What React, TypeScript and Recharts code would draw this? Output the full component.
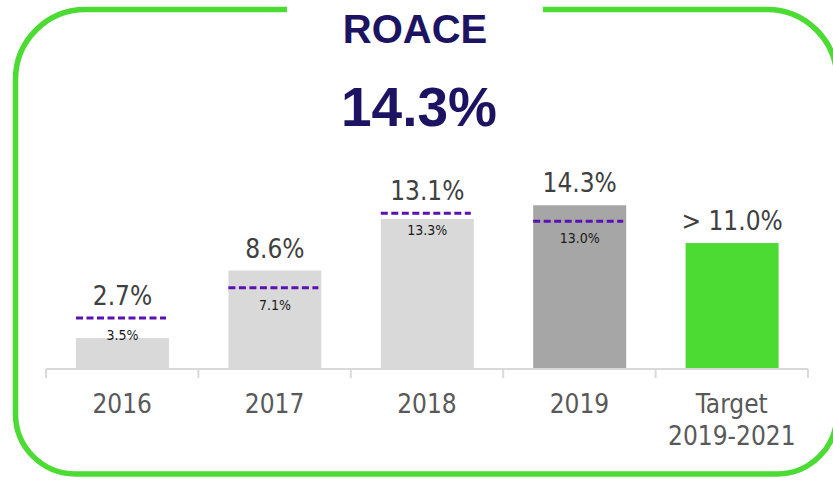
import React from 'react';
import { BarChart, Bar, XAxis, YAxis } from 'recharts';

// ---- data ----
const categories = ['2016', '2017', '2018', '2019', 'Target\n2019-2021'];
const roaceValues = [2.7, 8.6, 13.1, 14.3, 11.0];
const roaceLabels = ['2.7%', '8.6%', '13.1%', '14.3%', '> 11.0%'];
// purple dashed reference inside the bars (level as drawn, label as printed)
const benchLevels = [4.45, 7.1, 13.6, 12.9, null];
const benchLabels = ['3.5%', '7.1%', '13.3%', '13.0%', ''];
const barColors = ['#d9d9d9', '#d9d9d9', '#d9d9d9', '#a6a6a6', '#4cdb33'];

const chartData = categories.map((cat, i) => ({
  cat,
  value: roaceValues[i],
  label: roaceLabels[i],
  bench: benchLevels[i],
  benchLabel: benchLabels[i],
}));

const W = 833;
const H = 481;
const GREEN = '#4cdb33';
const NAVY = '#1c1363';
const FONT = '"DejaVu Sans Condensed", "DejaVu Sans", sans-serif';

const BarShape = (props: any) => {
  const { x, y, width, height, index, payload } = props;
  const top = y;
  const bottom = y + height;
  let dashY: number | null = null;
  if (payload.bench != null && payload.value) {
    dashY = bottom - (payload.bench / payload.value) * height;
  }
  const labelBase = Math.min(top, dashY ?? top) - 13;
  return (
    <g>
      <rect x={x} y={top} width={width} height={height} fill={barColors[index]} />
      {dashY != null && (
        <>
          <line
            x1={x}
            x2={x + width - 3}
            y1={dashY}
            y2={dashY}
            stroke="#5b10b2"
            strokeWidth={3}
            strokeDasharray="7 3.5"
          />
          <text
            x={x + width / 2}
            y={dashY + 22}
            textAnchor="middle"
            fontSize={14}
            fontFamily={FONT}
            fill="#1a1a1a"
          >
            {payload.benchLabel}
          </text>
        </>
      )}
      <text
        x={x + width / 2}
        y={labelBase}
        textAnchor="middle"
        fontSize={26}
        fontFamily={FONT}
        fill="#404040"
      >
        {payload.label}
      </text>
    </g>
  );
};

const AxisTick = (props: any) => {
  const { x, y, payload, index } = props;
  const half = payload.offset || 76.2;
  const lines = String(payload.value).split('\n');
  return (
    <g>
      <line x1={x - half} x2={x - half} y1={y} y2={y + 9} stroke="#d9d9d9" strokeWidth={2} />
      {index === categories.length - 1 && (
        <line x1={x + half} x2={x + half} y1={y} y2={y + 9} stroke="#d9d9d9" strokeWidth={2} />
      )}
      {lines.map((ln, i) => (
        <text
          key={i}
          x={x}
          y={y + 44 + i * 32}
          textAnchor="middle"
          fontSize={26}
          fontFamily={FONT}
          fill="#595959"
        >
          {ln}
        </text>
      ))}
    </g>
  );
};

export default function App() {
  return (
    <div
      style={{
        position: 'fixed',
        left: 0,
        top: 0,
        width: W,
        height: H,
        background: '#fff',
        overflow: 'hidden',
      }}
    >
      {/* green frame with a gap for the title */}
      <svg width={W} height={H} style={{ position: 'absolute', left: 0, top: 0 }}>
        <path
          d="M 287 9.5 H 85.5 A 70 70 0 0 0 15.5 79.5 V 414 A 60 60 0 0 0 75.5 474 H 777 A 60 60 0 0 0 837 414 V 79.5 A 70 70 0 0 0 767 9.5 H 543"
          fill="none"
          stroke={GREEN}
          strokeWidth={5.5}
        />
      </svg>

      <div
        style={{
          position: 'absolute',
          left: 0,
          top: 0,
          width: 830,
          textAlign: 'center',
          fontFamily: '"Liberation Sans", Arial, sans-serif',
          fontWeight: 'bold',
          fontSize: 40,
          lineHeight: '58px',
          color: NAVY,
        }}
      >
        ROACE
      </div>
      <div
        style={{
          position: 'absolute',
          left: 0,
          top: 70,
          width: 838,
          textAlign: 'center',
          fontFamily: '"Liberation Sans", Arial, sans-serif',
          fontWeight: 'bold',
          fontSize: 55,
          lineHeight: '74px',
          color: NAVY,
        }}
      >
        14.3%
      </div>

      <div style={{ position: 'absolute', left: 0, top: 0 }}>
        <BarChart
          width={W}
          height={H}
          data={chartData}
          margin={{ top: 140, right: 25, bottom: 30, left: 46 }}
          barSize={93}
        >
          <YAxis hide domain={[0, 20]} />
          <XAxis
            dataKey="cat"
            height={82}
            interval={0}
            tickSize={0}
            tickMargin={0}
            tickLine={false}
            axisLine={{ stroke: '#d9d9d9', strokeWidth: 2 }}
            tick={<AxisTick />}
          />
          <Bar dataKey="value" isAnimationActive={false} shape={<BarShape />} />
        </BarChart>
      </div>
    </div>
  );
}
